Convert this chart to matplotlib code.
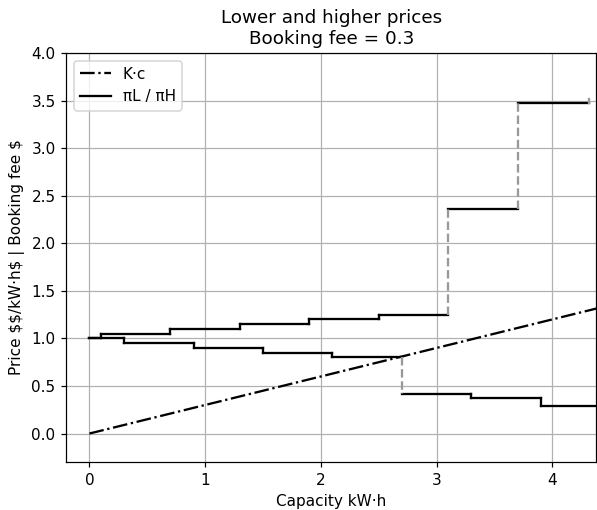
import matplotlib
matplotlib.use("Agg")
import matplotlib.pyplot as plt
import numpy as np

K = 0.3
cap = [0.0, 4.38]

# higher prices: segment starts/ends and values
hi_x0 = [0.0, 0.1, 0.7, 1.3, 1.9, 2.5, 3.1, 3.7]
hi_x1 = [0.1, 0.7, 1.3, 1.9, 2.5, 3.1, 3.7, 4.32]
hi_y = [1.0, 1.05, 1.10, 1.15, 1.20, 1.25, 2.36, 3.47]

# lower prices
lo_x0 = [0.0, 0.3, 0.9, 1.5, 2.1, 2.7, 3.3, 3.9]
lo_x1 = [0.3, 0.9, 1.5, 2.1, 2.7, 3.3, 3.9, 4.38]
lo_y = [1.0, 0.95, 0.90, 0.85, 0.80, 0.42, 0.37, 0.285]

fig, ax = plt.subplots(figsize=(597 / 110, 510 / 110), dpi=110)
fig.subplots_adjust(left=0.111, right=0.999, bottom=0.094, top=0.896)

ax.plot(cap, [K * c for c in cap], color="black", linestyle="-.", label="K·c")

def draw_steps(x0, x1, y, lab=None):
    for i in range(len(y)):
        ax.plot([x0[i], x1[i]], [y[i], y[i]], color="black", lw=1.5,
                label=lab if i == 0 else None)
        if i > 0:
            jump = abs(y[i] - y[i - 1])
            if jump > 0.2:
                ax.plot([x0[i], x0[i]], [y[i - 1], y[i]], color="#999999",
                        linestyle="--", lw=1.5)
            else:
                ax.plot([x0[i], x0[i]], [y[i - 1], y[i]], color="black", lw=1.5)

draw_steps(hi_x0, hi_x1, hi_y, "πL / πH")
draw_steps(lo_x0, lo_x1, lo_y)
ax.plot([hi_x1[-1], hi_x1[-1]], [hi_y[-1], hi_y[-1] + 0.05], color="#999999", lw=1.5)

ax.set_xlim(-0.2, 4.38)
ax.set_ylim(-0.3, 4.0)
ax.set_yticks(np.arange(0, 4.01, 0.5))
ax.grid(True)
ax.set_xlabel("Capacity kW·h")
ax.set_ylabel(r"Price \$\$/kW·h\$ | Booking fee \$")
ax.set_title("Lower and higher prices\nBooking fee = 0.3")
ax.legend(loc="upper left")
fig.savefig("out.png")
